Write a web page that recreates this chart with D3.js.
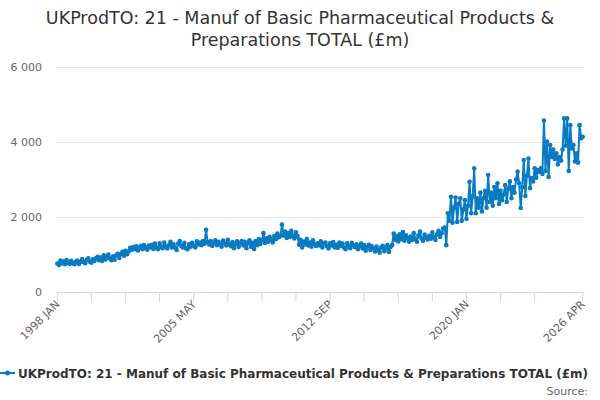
<!DOCTYPE html>
<html>
<head>
<meta charset="utf-8">
<script src="https://cdn.jsdelivr.net/npm/d3@7"></script>
<style>
  body { margin: 0; background: #fff; }
  svg { font-family: "DejaVu Sans", sans-serif; }
</style>
</head>
<body>
<div id="chart"></div>
<script>
'use strict';

// monthly values, 1998 JAN .. 2026 APR (£m)
const values = [
  760, 720, 840, 760, 820, 740, 850, 780, 750, 830, 770, 740,           // 1998
  810, 840, 750, 800, 880, 800, 770, 860, 900, 810, 780, 870,           // 1999
  830, 900, 940, 850, 920, 830, 980, 870, 930, 1000, 890, 850,          // 2000
  950, 860, 980, 1020, 910, 1010, 1070, 970, 1100, 1010, 1080, 1180,    // 2001
  1130, 1200, 1140, 1220, 1110, 1180, 1230, 1140, 1250, 1170, 1130, 1240, // 2002
  1190, 1260, 1150, 1290, 1190, 1140, 1300, 1210, 1170, 1320, 1220, 1160, // 2003
  1250, 1340, 1190, 1270, 1180, 1120, 1290, 1360, 1230, 1190, 1310, 1170, // 2004
  1140, 1270, 1210, 1310, 1240, 1190, 1350, 1270, 1320, 1250, 1360, 1290, // 2005
  1660, 1330, 1270, 1360, 1230, 1310, 1380, 1250, 1340, 1280, 1210, 1370, // 2006
  1300, 1240, 1390, 1270, 1220, 1330, 1170, 1280, 1350, 1200, 1300, 1360, // 2007
  1240, 1340, 1170, 1300, 1380, 1210, 1310, 1150, 1360, 1250, 1410, 1280, // 2008
  1380, 1570, 1310, 1430, 1340, 1470, 1390, 1320, 1490, 1410, 1560, 1460, // 2009
  1500, 1800, 1510, 1610, 1440, 1570, 1470, 1630, 1500, 1430, 1590, 1490, // 2010
  1260, 1390, 1190, 1340, 1270, 1410, 1240, 1320, 1210, 1380, 1280, 1230, // 2011
  1300, 1240, 1350, 1190, 1290, 1320, 1220, 1160, 1300, 1240, 1330, 1190, // 2012
  1260, 1180, 1320, 1230, 1290, 1190, 1140, 1300, 1220, 1170, 1310, 1240, // 2013
  1200, 1270, 1140, 1230, 1290, 1160, 1250, 1100, 1200, 1260, 1120, 1220, // 2014
  1160, 1080, 1210, 1120, 1050, 1190, 1230, 1090, 1160, 1250, 1070, 1200, // 2015
  1250, 1560, 1390, 1490, 1350, 1540, 1410, 1600, 1370, 1510, 1440, 1340, // 2016
  1480, 1390, 1570, 1410, 1340, 1510, 1610, 1430, 1370, 1530, 1450, 1400, // 2017
  1500, 1420, 1590, 1460, 1390, 1540, 1630, 1470, 1570, 1700, 1720, 1250, // 2018
  2100, 1900, 2540, 1850, 2250, 2520, 1870, 2350, 2500, 1900, 2200, 2450, // 2019
  1950, 2300, 2940, 2100, 2550, 3300, 2100, 2500, 2250, 2650, 2150, 2500, // 2020
  2700, 2250, 3120, 2400, 2650, 2300, 2800, 2500, 2900, 2350, 2700, 2450, // 2021
  2600, 2850, 2400, 2750, 2950, 2500, 2800, 2650, 3000, 3210, 2900, 2240, // 2022
  2800, 3520, 2560, 3100, 3560, 2770, 3040, 2950, 3300, 3050, 3250, 3200, // 2023
  3300, 3150, 4570, 3230, 4010, 3070, 3920, 3600, 3800, 3550, 3700, 3400, // 2024
  3600, 3500, 3800, 4630, 3900, 4630, 3230, 4450, 3830, 3920, 3480, 3700, // 2025
  3450, 4450, 4100, 4140                                                  // 2026
];

const monthNames = ["JAN", "FEB", "MAR", "APR", "MAY", "JUN", "JUL", "AUG", "SEP", "OCT", "NOV", "DEC"];
const startYear = 1998;
const categories = values.map((v, i) => `${startYear + Math.floor(i / 12)} ${monthNames[i % 12]}`);

const yTicks = [0, 2000, 4000, 6000];
const tickStep = 22;      // a tick every 22 months
const labelEvery = 4;     // label every 4th tick

const titleLines = ["UKProdTO: 21 - Manuf of Basic Pharmaceutical Products &", "Preparations TOTAL (£m)"];
const seriesName = "UKProdTO: 21 - Manuf of Basic Pharmaceutical Products & Preparations TOTAL (£m)";

const width = 600, height = 400;
const margin = { top: 67, right: 16, bottom: 108, left: 57 };
const color = "#0a7bc2";

const svg = d3.select("#chart").append("svg")
    .attr("width", width)
    .attr("height", height);

const x = d3.scaleLinear()
    .domain([0, values.length - 1])
    .range([margin.left + 0.3, width - 17.3]);

const y = d3.scaleLinear()
    .domain([0, 6000])
    .range([height - margin.bottom, margin.top]);

// title
svg.append("text")
    .attr("text-anchor", "middle")
    .attr("fill", "#333")
    .style("font-size", "17.5px")
    .selectAll("tspan")
    .data(titleLines)
    .enter().append("tspan")
    .attr("x", width / 2)
    .attr("y", (d, i) => 24 + i * 22)
    .text(d => d);

// gridlines + y labels
svg.append("g")
    .selectAll("line")
    .data(yTicks.filter(d => d > 0))
    .enter().append("line")
    .attr("x1", margin.left)
    .attr("x2", width - 16)
    .attr("y1", d => Math.round(y(d)) + 0.5)
    .attr("y2", d => Math.round(y(d)) + 0.5)
    .attr("stroke", "#e6e6e6");

svg.append("g")
    .selectAll("text")
    .data(yTicks)
    .enter().append("text")
    .attr("x", 42)
    .attr("y", d => y(d) + 4)
    .attr("text-anchor", "end")
    .attr("fill", "#666")
    .style("font-size", "11px")
    .text(d => d3.format(",")(d).replace(/,/g, " "));

// x axis
const tickIdx = d3.range(0, values.length - tickStep, tickStep).concat([values.length - 1]);
const labelIdx = tickIdx.filter((d, i) => i % labelEvery === 0 || d === values.length - 1);

const xAxis = svg.append("g");
xAxis.append("line")
    .attr("x1", margin.left)
    .attr("x2", width - 16)
    .attr("y1", y(0) + 0.5)
    .attr("y2", y(0) + 0.5)
    .attr("stroke", "#ccd6eb");
xAxis.selectAll(".tick")
    .data(tickIdx)
    .enter().append("line")
    .attr("x1", d => x(d))
    .attr("x2", d => x(d))
    .attr("y1", y(0))
    .attr("y2", y(0) + 10)
    .attr("stroke", "#ccd6eb");
xAxis.selectAll("text")
    .data(labelIdx)
    .enter().append("text")
    .attr("transform", d => `translate(${x(d) + 3},${y(0) + 13}) rotate(-45)`)
    .attr("text-anchor", "end")
    .attr("fill", "#666")
    .style("font-size", "11px")
    .text(d => categories[d]);

// series
const line = d3.line()
    .x((d, i) => x(i))
    .y(d => y(d));

svg.append("path")
    .datum(values)
    .attr("d", line)
    .attr("fill", "none")
    .attr("stroke", color)
    .attr("stroke-width", 2)
    .attr("stroke-linejoin", "round");

svg.append("g")
    .selectAll("circle")
    .data(values)
    .enter().append("circle")
    .attr("cx", (d, i) => x(i))
    .attr("cy", d => y(d))
    .attr("r", 2.3)
    .attr("fill", color);

// legend
const legend = svg.append("g").attr("transform", "translate(0,373)");
legend.append("line")
    .attr("x1", 0).attr("x2", 15)
    .attr("y1", 0).attr("y2", 0)
    .attr("stroke", color)
    .attr("stroke-width", 2);
legend.append("circle")
    .attr("cx", 7.5).attr("cy", 0).attr("r", 2.5)
    .attr("fill", color);
legend.append("text")
    .attr("x", 18)
    .attr("y", 4.5)
    .attr("fill", "#333")
    .style("font-size", "12px")
    .style("font-weight", "bold")
    .text(seriesName);

svg.append("text")
    .attr("x", 588)
    .attr("y", 395)
    .attr("text-anchor", "end")
    .attr("fill", "#666")
    .style("font-size", "11px")
    .text("Source:");
</script>
</body>
</html>
